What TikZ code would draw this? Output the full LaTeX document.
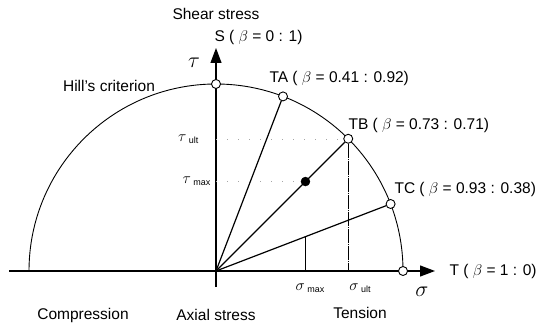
\RequirePackage{fix-cm}
\documentclass[tikz,border=0pt]{standalone}
\usepackage{fontspec}
\setmainfont{Liberation Sans}
\setsansfont{Liberation Sans}
\usepackage{tikz}
\usetikzlibrary{arrows.meta, positioning, calc}
\tikzset{
	crit/.style     ={line width=0.9pt, draw=black},
	ray/.style      ={line width=1.2pt, draw=black},
	axisarrow/.style={-{Triangle[length=15pt, width=11pt]}, line width=1.2pt},
	opendot/.style  ={circle, draw=black, fill=white, line width=0.9pt, minimum size=9pt, inner sep=0pt},
	fulldot/.style  ={circle, draw=black, fill=black, minimum size=9pt, inner sep=0pt},
	guide/.style    ={gray!70, thin, dash pattern=on 1pt off 10pt},
	drop/.style     ={line width=0.7pt, dash pattern=on 14pt off 1pt on 1pt off 1pt},
	bigsym/.style   ={font=\fontsize{22}{24}\selectfont},
}

\begin{document}
\begin{tikzpicture}[x=1pt, y=1pt, font=\fontsize{15.5}{18}\selectfont]
	\useasboundingbox (0,0) rectangle (556,329);
	% axes
	\coordinate (O) at (216,58);
	\coordinate (tautop) at (216,281);
	\coordinate (taubot) at (216,42);
	\coordinate (sigleft) at (9,58);
	\coordinate (sigright) at (435,58);
	\draw[crit] (29,58) arc[start angle=180, end angle=0, radius=187];
	\draw[axisarrow] (taubot) -- (tautop);
	\draw[axisarrow] (sigleft) -- (sigright);
	% points on the criterion
	\node[opendot] (S) at (216,245) {};
	\node[opendot] (T) at (403,58) {};
	\path (O) ++(69:187) node[opendot] (TA) {};
	\path (O) ++(45:187) node[opendot] (TB) {};
	\path (O) ++(21:187) node[opendot] (TC) {};
	\path (O) ++(45:126.5) node[fulldot] (M) {};
	\coordinate (Mc) at (305.4,92.3);
	\draw[ray] (O) -- (TA);
	\draw[ray] (O) -- (TB);
	\draw[ray] (O) -- (TC);
	% guide lines
	\draw[guide] (O |- TB) -- (TB);
	\draw[guide] (O |- M) -- (M);
	\draw[drop] (TB) -- (TB |- O);
	\draw[line width=0.7pt] (Mc) -- (Mc |- O);
	% labels
	\node (shear) at (216,315) {Shear stress};
	\node[anchor=west] (Slab) at (211,292) {S ( $\beta$ = 0 : 1)};
	\node[bigsym] (tau) at (194,266) {$\tau$};
	\node (hill) at (109,243) {Hill's criterion};
	\node[anchor=west] (TAlab) at (266,251) {TA ( $\beta$ = 0.41 : 0.92)};
	\node[anchor=west] (TBlab) at (345,204) {TB ( $\beta$ = 0.73 : 0.71)};
	\node[anchor=west] (TClab) at (391,140) {TC ( $\beta$ = 0.93 : 0.38)};
	\node[anchor=west] (Tlab) at (446,58) {T ( $\beta$ = 1 : 0)};
	\node[bigsym] (sigma) at (422,37) {$\sigma$};
	\node (smax) at (310,41) {$\sigma$\,\raisebox{-2pt}{\small max}};
	\node (sult) at (360,41) {$\sigma$\,\raisebox{-2pt}{\small ult}};
	\node[anchor=east] (tult) at (202,190) {$\tau$\,\raisebox{-2pt}{\small ult}};
	\node[anchor=east] (tmax) at (214,148) {$\tau$\,\raisebox{-2pt}{\small max}};
	\node (tension) at (360,16) {Tension};
	\node (axial) at (216,14) {Axial stress};
	\node (compr) at (83,14) {Compression};
\end{tikzpicture}
\end{document}
